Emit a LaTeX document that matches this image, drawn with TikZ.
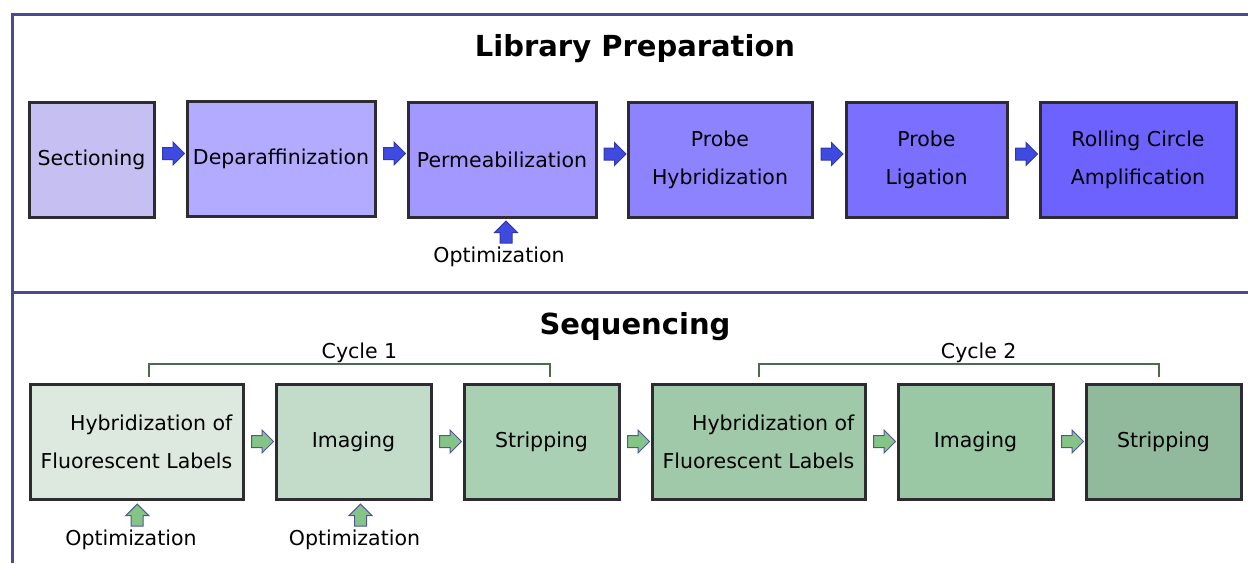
\documentclass[tikz,border=0pt]{standalone}
\usepackage{fontspec}
\setmainfont{DejaVu Sans}
\usetikzlibrary{shapes.arrows, positioning}

\definecolor{frameclr}{HTML}{4B4A8F}
\definecolor{edgeclr}{HTML}{2F2B33}
\definecolor{libA}{HTML}{C6C0F2}
\definecolor{libB}{HTML}{B3ABFF}
\definecolor{libC}{HTML}{A398FF}
\definecolor{libD}{HTML}{8E83FF}
\definecolor{libE}{HTML}{7B6FFF}
\definecolor{libF}{HTML}{6E62FF}
\definecolor{seqA}{HTML}{DDE9DF}
\definecolor{seqB}{HTML}{C3DCCA}
\definecolor{seqC}{HTML}{A9D0B3}
\definecolor{seqD}{HTML}{A0C9A9}
\definecolor{seqE}{HTML}{9AC7A4}
\definecolor{seqF}{HTML}{91B99B}
\definecolor{bluearr}{HTML}{3F4BE0}
\definecolor{bluearrln}{HTML}{3139A8}
\definecolor{greenarr}{HTML}{84C487}
\definecolor{greenarrln}{HTML}{55559A}
\definecolor{cycleclr}{HTML}{4D6B50}

\tikzset{
  stepbox/.style={draw=edgeclr, line width=3pt, minimum height=115pt, inner sep=0pt,
    align=center, font=\fontsize{20.5}{38}\selectfont},
  headline/.style={font=\fontsize{29}{34}\selectfont\bfseries},
  optlbl/.style={font=\fontsize{20.5}{24}\selectfont, inner sep=0pt},
  blkarr/.style={single arrow, minimum height=22pt, inner xsep=0pt, inner ysep=5.5pt,
    single arrow head extend=5.5pt, single arrow head indent=0pt, line width=1pt},
  libarr/.style={blkarr, fill=bluearr, draw=bluearrln},
  seqarr/.style={blkarr, fill=greenarr, draw=greenarrln},
  frameln/.style={draw=frameclr, line width=3pt},
  cyclebr/.style={draw=cycleclr, line width=2pt}
}

\begin{document}
\begin{tikzpicture}[x=1pt, y=-1pt]
  \useasboundingbox (0,0) rectangle (1248,563);

  % frame
  \draw[frameln] (12,563) -- (12,14) -- (1248,14);
  \draw[frameln] (12,292) -- (1248,292);

  % library preparation
  \node[headline] (libtitle) at (635,49) {Library Preparation};

  \node[stepbox, fill=libA, minimum width=125pt] (sect) at (91.5,160) {Sectioning};
  \node[stepbox, fill=libB, minimum width=188pt] (depar) at (281,159) {Deparaffinization};
  \node[stepbox, fill=libC, minimum width=188pt] (perm) at (502,160) {Permeabilization};
  \node[stepbox, fill=libD, minimum width=184pt] (phyb) at (720,160) {Probe\\Hybridization};
  \node[stepbox, fill=libE, minimum width=161pt] (plig) at (926.5,160) {Probe\\Ligation};
  \node[stepbox, fill=libF, minimum width=196pt] (rca) at (1138,160) {Rolling Circle\\Amplification};

  \foreach \a/\b in {sect/depar, depar/perm, perm/phyb, phyb/plig, plig/rca} {
    \path ([yshift=6pt]\a.east) -- ([yshift=6pt]\b.west) node[midway, libarr] {};
  }

  \node[optlbl] (optperm) at (499,257) {Optimization};
  \path ([xshift=7pt]optperm.north) -- ([xshift=4pt]perm.south) node[pos=0.42, libarr, rotate=90] {};

  % sequencing
  \node[headline] (seqtitle) at (635,327) {Sequencing};

  \node[stepbox, fill=seqA, minimum width=213pt, align=right] (hybA) at (136.5,441.5) {Hybridization of\\Fluorescent Labels};
  \node[stepbox, fill=seqB, minimum width=155pt] (imgA) at (353.5,441.5) {Imaging};
  \node[stepbox, fill=seqC, minimum width=155pt] (stripA) at (541.5,441.5) {Stripping};
  \node[stepbox, fill=seqD, minimum width=213pt, align=right] (hybB) at (758.5,441.5) {Hybridization of\\Fluorescent Labels};
  \node[stepbox, fill=seqE, minimum width=155pt] (imgB) at (975.5,441.5) {Imaging};
  \node[stepbox, fill=seqF, minimum width=155pt] (stripB) at (1163.5,441.5) {Stripping};

  \foreach \a/\b in {hybA/imgA, imgA/stripA, stripA/hybB, hybB/imgB, imgB/stripB} {
    \path (\a.east) -- (\b.west) node[midway, seqarr] {};
  }

  \node[optlbl] (opthyb) at (131,540) {Optimization};
  \node[optlbl] (optimg) at (354.5,540) {Optimization};
  \path ([xshift=6pt]opthyb.north) -- ([xshift=1pt]hybA.south) node[pos=0.4, seqarr, rotate=90] {};
  \path ([xshift=6pt]optimg.north) -- ([xshift=7pt]imgA.south) node[pos=0.4, seqarr, rotate=90] {};

  % cycles
  \coordinate (c1l) at ([xshift=12.5pt, yshift=6pt]hybA.north);
  \coordinate (c1r) at ([xshift=8.5pt, yshift=6pt]stripA.north);
  \draw[cyclebr] (c1l) -- ++(0,-13) coordinate (c1t) -- (c1t -| c1r)
    node[midway, anchor=base, yshift=5pt, xshift=10pt, font=\fontsize{20.5}{24}\selectfont, inner sep=0pt] {Cycle 1} -- (c1r);
  \coordinate (c2l) at ([yshift=6pt]hybB.north);
  \coordinate (c2r) at ([xshift=-4.5pt, yshift=6pt]stripB.north);
  \draw[cyclebr] (c2l) -- ++(0,-13) coordinate (c2t) -- (c2t -| c2r)
    node[midway, anchor=base, yshift=5pt, xshift=20pt, font=\fontsize{20.5}{24}\selectfont, inner sep=0pt] {Cycle 2} -- (c2r);
\end{tikzpicture}
\end{document}
